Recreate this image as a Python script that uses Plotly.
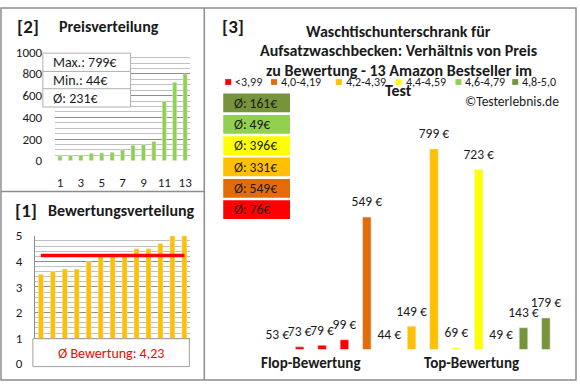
import plotly.graph_objects as go

# ---------------- data ----------------
prices_sorted = [44, 49, 53, 69, 73, 79, 99, 143, 149, 179, 549, 723, 799]
ratings_sorted = [3.5, 3.6, 3.7, 3.7, 4.0, 4.2, 4.3, 4.3, 4.5, 4.5, 4.7, 5.0, 5.0]

# right chart: products grouped by rating class, price ascending within class
product_prices = [53, 73, 79, 99, 549, 44, 149, 799, 69, 723, 49, 143, 179]
product_groups = [0, 0, 0, 0, 1, 2, 2, 2, 3, 3, 4, 5, 5]
group_labels = ["<3,99", "4,0-4,19", "4,2-4,39", "4,4-4,59", "4,6-4,79", "4,8-5,0"]
group_colors = ["#FF0000", "#E36C09", "#FFC000", "#FFFF00", "#92D050", "#77933C"]

rank_ticks = [1, 3, 5, 7, 9, 11, 13]
category_labels = ["Flop-Bewertung", "Top-Bewertung"]

# ---------------- helpers ----------------
W, H = 580, 390
def X(p): return p / W
def Y(p): return 1 - p / H

FONT = "Carlito, Lato, sans-serif"
TXT = "#1a1a1a"
GRID = "#8c8c8c"
MINOR = "#c0c0c0"

n = len(prices_sorted)
idx = list(range(1, n + 1))
avg_price = sum(prices_sorted) / n
avg_rating = sum(ratings_sorted) / n

fig = go.Figure()

# top-left: price distribution
fig.add_trace(go.Bar(x=idx, y=prices_sorted, width=0.4, marker_color="#92D050",
                     xaxis="x", yaxis="y", showlegend=False))
# bottom-left: rating distribution
fig.add_trace(go.Bar(x=idx, y=ratings_sorted, width=0.42, marker_color="#FFC000",
                     xaxis="x2", yaxis="y2", showlegend=False))
fig.add_trace(go.Scatter(x=[idx[0], idx[-1]], y=[avg_rating, avg_rating], mode="lines",
                         line=dict(color="#FF0000", width=3.5),
                         xaxis="x2", yaxis="y2", showlegend=False))
# right: price vs rating
YMIN = 64
fig.add_trace(go.Bar(x=idx, y=product_prices, width=0.38,
                     marker_color=[group_colors[g] for g in product_groups],
                     xaxis="x3", yaxis="y3", showlegend=False))
fig.add_trace(go.Scatter(x=idx, y=[max(p, YMIN) for p in product_prices], mode="markers+text",
                         marker=dict(size=10, color="rgba(0,0,0,0)"),
                         text=[f"{p} €" for p in product_prices], textposition="top center",
                         textfont=dict(size=13.5, color=TXT, family=FONT), cliponaxis=False,
                         xaxis="x3", yaxis="y3", showlegend=False, hoverinfo="skip"))

layout = dict(
    width=W, height=H, margin=dict(l=0, r=0, t=0, b=0),
    paper_bgcolor="white", plot_bgcolor="white",
    font=dict(family=FONT, color=TXT, size=13),
    bargap=0.6,
    xaxis=dict(domain=[X(55), X(191)], anchor="y", range=[0.5, 13.5], tickvals=rank_ticks,
               showgrid=False, zeroline=False, ticks="outside", ticklen=10,
               tickcolor="rgba(0,0,0,0)", tickfont=dict(size=13)),
    yaxis=dict(domain=[Y(160), Y(47)], anchor="x", range=[0, 1000], dtick=200, showgrid=True,
               gridcolor=GRID, zeroline=False, ticks="outside", ticklen=9,
               tickcolor="rgba(0,0,0,0)", tickfont=dict(size=13),
               minor=dict(dtick=50, showgrid=True, gridcolor=MINOR)),
    xaxis2=dict(domain=[X(35), X(191)], anchor="y2", range=[0.5, 13.5], showticklabels=False,
                showgrid=False, zeroline=False),
    yaxis2=dict(domain=[Y(371), Y(238)], anchor="x2", range=[0, 5], dtick=1, showgrid=True,
                gridcolor=GRID, zeroline=False, showline=True, linecolor=GRID,
                ticks="outside", ticklen=9, tickcolor="rgba(0,0,0,0)",
                tickfont=dict(size=13),
                minor=dict(dtick=0.2, showgrid=True, gridcolor=MINOR)),
    xaxis3=dict(domain=[X(267), X(559)], anchor="y3", range=[0.5, 13.5], showticklabels=False,
                showgrid=False, zeroline=False),
    yaxis3=dict(domain=[Y(356), Y(119)], anchor="x3", range=[YMIN, 900], visible=False),
)

shapes = []
annotations = []
border = "#8c8c8c"
shapes.append(dict(type="rect", xref="paper", yref="paper", x0=X(1), x1=X(578), y0=Y(388), y1=Y(1),
                   line=dict(color=border, width=1.5)))
shapes.append(dict(type="line", xref="paper", yref="paper", x0=X(205), x1=X(205), y0=Y(388), y1=Y(1),
                   line=dict(color=border, width=1.5)))
shapes.append(dict(type="line", xref="paper", yref="paper", x0=X(1), x1=X(205), y0=Y(192), y1=Y(192),
                   line=dict(color=border, width=1.5)))

def ann(x, y, text, size=12, bold=False, color=TXT, xanchor="left"):
    annotations.append(dict(xref="paper", yref="paper", x=X(x), y=Y(y), text=f"<b>{text}</b>" if bold else text,
                            showarrow=False, xanchor=xanchor, yanchor="middle",
                            font=dict(size=size, color=color, family=FONT)))

# panel titles
ann(15, 20, "[2]", 19, True)
ann(57, 20, "Preisverteilung", 16, True)
ann(13, 212, "[1]", 19, True)
ann(46, 212, "Bewertungsverteilung", 16, True)
ann(221, 20, "[3]", 19, True)
for i, line in enumerate(["Waschtischunterschrank für", "Aufsatzwaschbecken: Verhältnis von Preis",
                          "zu Bewertung - 13 Amazon Bestseller im", "Test"]):
    ann(400, 25 + i * 20.5, line, 16, True, xanchor="center")

# top-left stats box
shapes.append(dict(type="rect", xref="paper", yref="paper", x0=X(43), x1=X(131), y0=Y(104), y1=Y(48),
                   fillcolor="white", line=dict(color="#b0b0b0", width=1)))
for yy in (67, 85):
    shapes.append(dict(type="line", xref="paper", yref="paper", x0=X(43), x1=X(131), y0=Y(yy), y1=Y(yy),
                       line=dict(color="#b0b0b0", width=1)))
ann(51, 58, f"Max.: {max(prices_sorted)}€", 14)
ann(51, 76.5, f"Min.: {min(prices_sorted)}€", 14)
ann(51, 95, f"Ø: {round(avg_price)}€", 14)

# bottom-left average box
shapes.append(dict(type="rect", xref="paper", yref="paper", x0=X(33), x1=X(190), y0=Y(374), y1=Y(345),
                   fillcolor="white", line=dict(color="#a0a0a0", width=1)))
ann(111, 360, f"Ø Bewertung: {avg_rating:.2f}".replace(".", ","), 14, False, "#FF0000", "center")

# legend (manual)
leg_sq = [226, 272, 337, 397, 457, 514]
for gi, (lab, col) in enumerate(zip(group_labels, group_colors)):
    x0 = leg_sq[gi]
    shapes.append(dict(type="rect", xref="paper", yref="paper", x0=X(x0), x1=X(x0 + 6), y0=Y(81), y1=Y(75),
                       fillcolor=col, line=dict(width=0)))
    ann(x0 + 8, 78, lab, 12)

# group average boxes (top: best class)
for k, gi in enumerate(reversed(range(len(group_labels)))):
    vals = [p for p, g in zip(product_prices, product_groups) if g == gi]
    top = 90 + k * 22.2
    shapes.append(dict(type="rect", xref="paper", yref="paper", x0=X(224), x1=X(291), y0=Y(top + 19.5), y1=Y(top),
                       fillcolor=group_colors[gi], line=dict(width=0)))
    ann(233, top + 10, f"Ø: {round(sum(vals) / len(vals))}€", 13.5)

ann(563, 98, "©Testerlebnis.de", 13.5, False, TXT, "right")
ann(312, 370, category_labels[0], 15, True, xanchor="center")
ann(473, 370, category_labels[1], 15, True, xanchor="center")

layout["shapes"] = shapes
layout["annotations"] = annotations
fig.update_layout(**layout)
fig.write_html("out.html", config={"displayModeBar": False},
               post_script="document.body.style.margin='0';document.body.style.overflow='hidden';")
